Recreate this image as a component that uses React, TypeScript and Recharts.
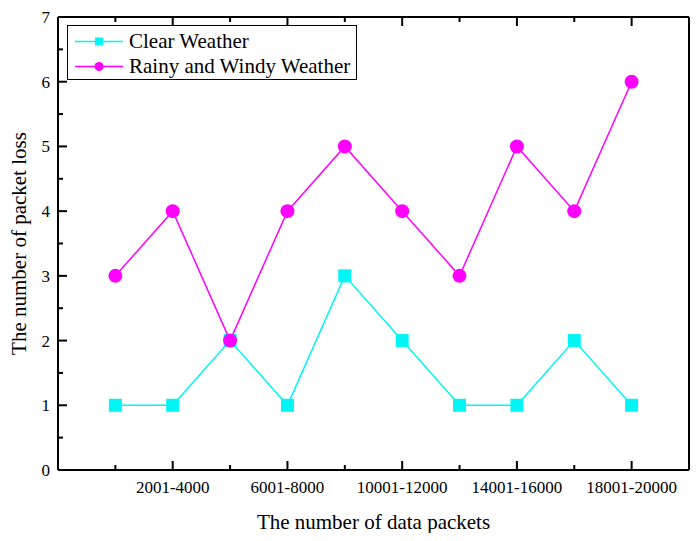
import React from 'react';
import { LineChart, Line, XAxis, YAxis, Legend } from 'recharts';

const categories = ['1-2000', '2001-4000', '4001-6000', '6001-8000', '8001-10000', '10001-12000', '12001-14000', '14001-16000', '16001-18000', '18001-20000'];
const clearWeather = [1, 1, 2, 1, 3, 2, 1, 1, 2, 1];
const rainyWindyWeather = [3, 4, 2, 4, 5, 4, 3, 5, 4, 6];
const yTicks = [0, 0.5, 1, 1.5, 2, 2.5, 3, 3.5, 4, 4.5, 5, 5.5, 6, 6.5, 7];
const xTicks = categories.map((_, i) => i + 1);

const data = categories.map((c, i) => ({
  pos: i + 1,
  name: c,
  clear: clearWeather[i],
  rainy: rainyWindyWeather[i],
}));

const FONT = '"Liberation Serif", "Times New Roman", serif';
const CYAN = '#00F5F5';
const MAGENTA = '#FF00FF';

const isMajorX = (v: number) => (v - 1) % 2 === 1;

const BottomTick = (props: any) => {
  const { x, y, payload } = props;
  const v = payload.value;
  const major = isMajorX(v);
  return (
    <g>
      <line x1={x} y1={y} x2={x} y2={y - (major ? 9 : 5)} stroke="#000" strokeWidth={2} />
      {major && (
        <text x={x} y={y + 23} textAnchor="middle" fontFamily={FONT} fontSize={17} fill="#000">
          {categories[v - 1]}
        </text>
      )}
    </g>
  );
};

const TopTick = (props: any) => {
  const { x, y, payload } = props;
  const major = isMajorX(payload.value);
  return <line x1={x} y1={y} x2={x} y2={y + (major ? 9 : 5)} stroke="#000" strokeWidth={2} />;
};

const LeftTick = (props: any) => {
  const { x, y, payload } = props;
  const v = payload.value;
  const major = Number.isInteger(v);
  return (
    <g>
      <line x1={x} y1={y} x2={x + (major ? 9 : 5)} y2={y} stroke="#000" strokeWidth={2} />
      {major && (
        <text x={x - 8} y={y} dy="0.35em" textAnchor="end" fontFamily={FONT} fontSize={17} fill="#000">
          {v}
        </text>
      )}
    </g>
  );
};

const RightTick = (props: any) => {
  const { x, y, payload } = props;
  const major = Number.isInteger(payload.value);
  return <line x1={x} y1={y} x2={x - (major ? 9 : 5)} y2={y} stroke="#000" strokeWidth={2} />;
};

const SquareDot = (props: any) => {
  const { cx, cy, index } = props;
  return <rect key={`sq-${index}`} x={cx - 6.5} y={cy - 6.5} width={13} height={13} fill={CYAN} />;
};

const CircleDot = (props: any) => {
  const { cx, cy, index } = props;
  return <circle key={`ci-${index}`} cx={cx} cy={cy} r={7} fill={MAGENTA} />;
};

const LegendContent = () => {
  const rows = [
    { label: 'Clear Weather', color: CYAN, shape: 'square' },
    { label: 'Rainy and Windy Weather', color: MAGENTA, shape: 'circle' },
  ];
  return (
    <div
      style={{
        border: '1px solid #000',
        background: '#fff',
        width: 290,
        height: 55,
        boxSizing: 'border-box',
        paddingTop: 3,
        fontFamily: FONT,
        fontSize: 21,
        color: '#000',
      }}
    >
      {rows.map((r) => (
        <div key={r.label} style={{ display: 'flex', alignItems: 'center', height: 25, lineHeight: '25px', whiteSpace: 'nowrap' }}>
          <svg width={56} height={25} style={{ display: 'block' }}>
            <line x1={7} y1={12.5} x2={55} y2={12.5} stroke={r.color} strokeWidth={1.5} />
            {r.shape === 'square' ? (
              <rect x={27} y={8.5} width={8} height={8} fill={r.color} />
            ) : (
              <circle cx={31} cy={12.5} r={4.5} fill={r.color} />
            )}
          </svg>
          <span style={{ marginLeft: 5 }}>{r.label}</span>
        </div>
      ))}
    </div>
  );
};

const XTitle = (props: any) => {
  const { viewBox } = props;
  return (
    <text x={viewBox.x + viewBox.width / 2} y={viewBox.y + 59} textAnchor="middle" fontFamily={FONT} fontSize={21} fill="#000">
      The number of data packets
    </text>
  );
};

const YTitle = (props: any) => {
  const { viewBox } = props;
  const cx = viewBox.x + viewBox.width - 39;
  const cy = viewBox.y + viewBox.height / 2;
  return (
    <text x={cx} y={cy} dy="0.35em" textAnchor="middle" transform={`rotate(-90 ${cx} ${cy})`} fontFamily={FONT} fontSize={21} fill="#000">
      The number of packet loss
    </text>
  );
};

export default function App() {
  return (
    <div style={{ width: 700, height: 541, position: 'relative', margin: '-8px', background: '#fff' }}>
      <LineChart width={700} height={541} data={data} margin={{ top: 16, right: 10, bottom: 70, left: 57 }}>
        <XAxis
          xAxisId="b"
          dataKey="pos"
          type="number"
          domain={[0, 11]}
          ticks={xTicks}
          interval={0}
          height={1}
          tickSize={0}
          tickMargin={0}
          axisLine={{ stroke: '#000', strokeWidth: 2 }}
          tickLine={false}
          tick={<BottomTick />}
          label={<XTitle />}
        />
        <XAxis
          xAxisId="t"
          orientation="top"
          dataKey="pos"
          type="number"
          domain={[0, 11]}
          ticks={xTicks}
          interval={0}
          height={1}
          tickSize={0}
          tickMargin={0}
          axisLine={{ stroke: '#000', strokeWidth: 2 }}
          tickLine={false}
          tick={<TopTick />}
        />
        <YAxis
          yAxisId="l"
          type="number"
          domain={[0, 7]}
          ticks={yTicks}
          interval={0}
          width={1}
          tickSize={0}
          tickMargin={0}
          axisLine={{ stroke: '#000', strokeWidth: 2 }}
          tickLine={false}
          tick={<LeftTick />}
          label={<YTitle />}
        />
        <YAxis
          yAxisId="r"
          orientation="right"
          type="number"
          domain={[0, 7]}
          ticks={yTicks}
          interval={0}
          width={1}
          tickSize={0}
          tickMargin={0}
          axisLine={{ stroke: '#000', strokeWidth: 2 }}
          tickLine={false}
          tick={<RightTick />}
        />
        <Legend
          layout="vertical"
          align="center"
          verticalAlign="middle"
          content={<LegendContent />}
          wrapperStyle={{ left: 67, top: 25, width: 'auto', height: 'auto' }}
        />
        <Line
          xAxisId="b"
          yAxisId="l"
          dataKey="clear"
          name="Clear Weather"
          stroke={CYAN}
          strokeWidth={1.5}
          dot={<SquareDot />}
          activeDot={false}
          isAnimationActive={false}
        />
        <Line
          xAxisId="b"
          yAxisId="l"
          dataKey="rainy"
          name="Rainy and Windy Weather"
          stroke={MAGENTA}
          strokeWidth={1.5}
          dot={<CircleDot />}
          activeDot={false}
          isAnimationActive={false}
        />
      </LineChart>
    </div>
  );
}
